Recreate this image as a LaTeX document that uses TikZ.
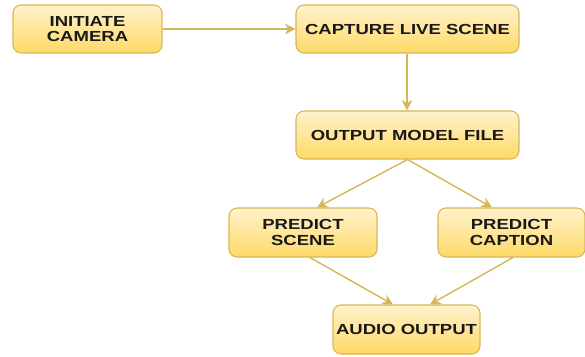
\documentclass[tikz,border=0pt]{standalone}
\usepackage{fontspec}
\setmainfont[FakeStretch=1.27]{Liberation Sans}
\usepackage{xcolor}
\usetikzlibrary{positioning,arrows.meta,shadows}

\definecolor{boxtop}{HTML}{FFF2CC}
\definecolor{boxbot}{HTML}{FFD966}
\definecolor{boxline}{HTML}{D6B656}

\tikzset{
  stage/.style={draw=boxline, line width=0.6pt, rounded corners=0.16cm,
    top color=boxtop, bottom color=boxbot, align=center, inner sep=0pt,
    minimum height=0.96cm, text=black!90,
    font=\fontsize{8.3}{8.7}\selectfont\bfseries},
  flow/.style={draw=boxline, line width=0.8pt, -{Stealth[length=6pt,width=6pt]}}
}

\begin{document}
\begin{tikzpicture}[x=0.02cm,y=-0.02cm]
        \useasboundingbox (0,0) rectangle (585,356);
        % boxes
        \node[stage, minimum width=2.98cm] (init) at (87.5,29) {INITIATE\\CAMERA};
        \node[stage, minimum width=4.46cm] (capture) at (407.5,29) {CAPTURE LIVE SCENE};
        \node[stage, minimum width=4.46cm] (model) at (407.5,135) {OUTPUT MODEL FILE};
        \node[stage, minimum width=2.96cm, minimum height=0.98cm] (pscene) at (303,232.5) {PREDICT\\SCENE};
        \node[stage, minimum width=2.94cm, minimum height=0.98cm] (pcaption) at (511.5,232.5) {PREDICT\\CAPTION};
        \node[stage, minimum width=2.94cm, minimum height=0.98cm] (audio) at (406.5,329.5) {AUDIO OUTPUT};
        % arrows
        \draw[flow] (init) -- (capture);
        \draw[flow] ([xshift=-0.01cm]capture.south) -- ([xshift=-0.01cm]model.north);
        \draw[flow] (model.south) -- ([xshift=0.28cm]pscene.north);
        \draw[flow] (model.south) -- ([xshift=-0.39cm]pcaption.north);
        \draw[flow] ([xshift=0.14cm]pscene.south) -- ([xshift=-0.27cm]audio.north);
        \draw[flow] ([xshift=0.03cm]pcaption.south) -- ([xshift=0.47cm]audio.north);
    \end{tikzpicture}
\end{document}
